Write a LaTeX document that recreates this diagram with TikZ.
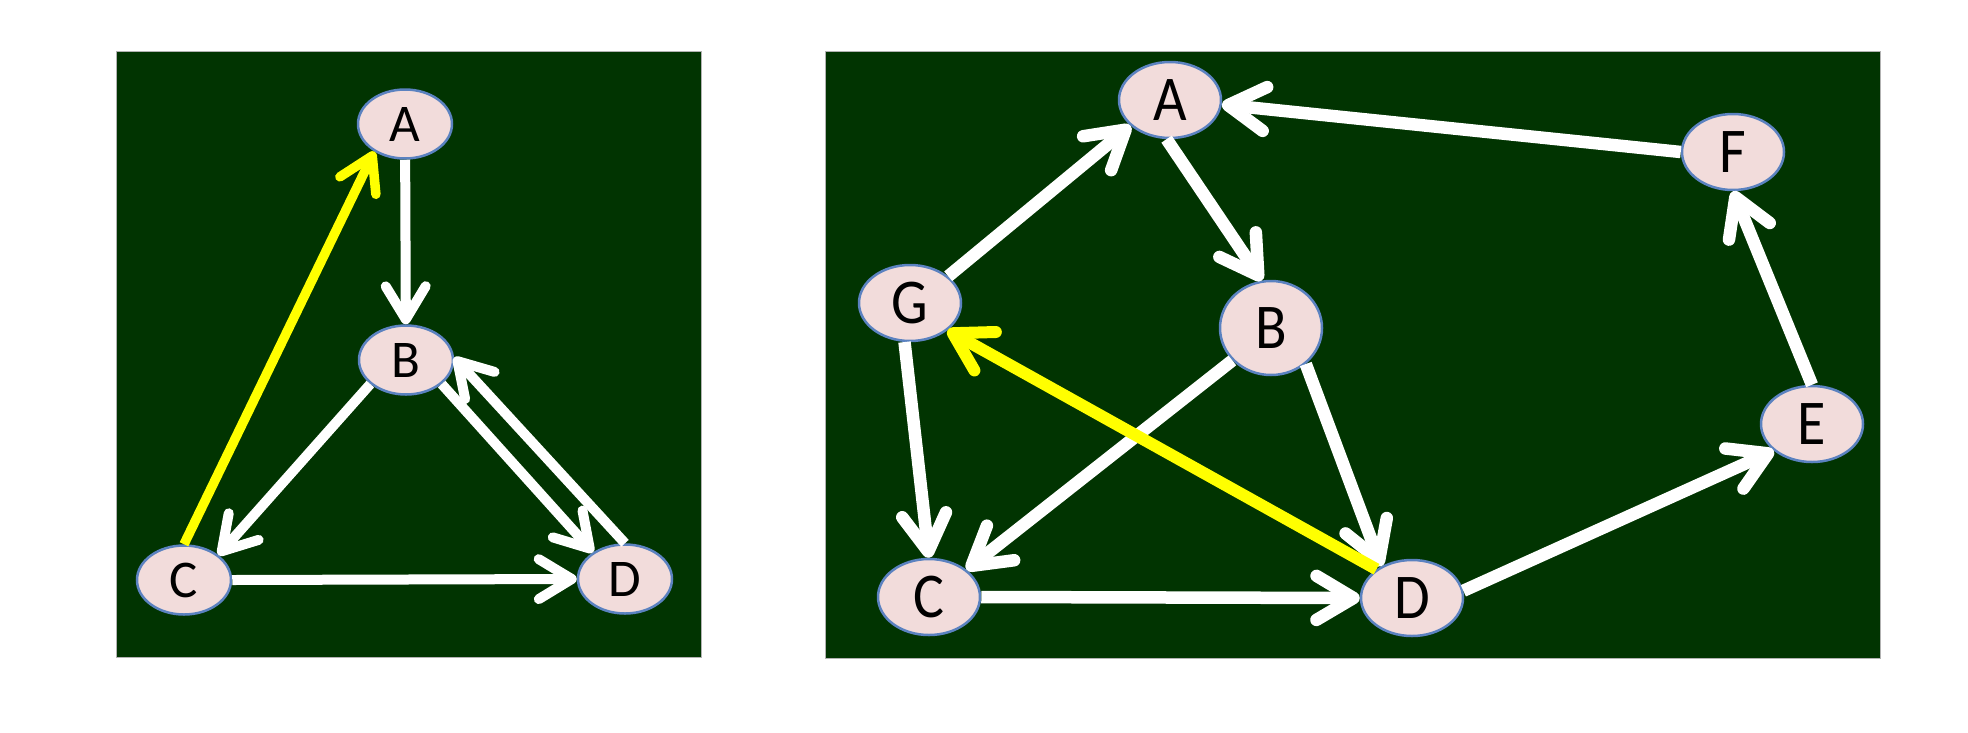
\documentclass[tikz,border=0pt]{standalone}
\usepackage{fontspec}
\setmainfont{Carlito}
\usetikzlibrary{arrows.meta,shapes.geometric}
\definecolor{panelgreen}{HTML}{013401}
\definecolor{nodefill}{HTML}{F2DCDB}
\definecolor{nodeline}{HTML}{5B82C0}
\definecolor{hiyellow}{HTML}{FFFF00}
\tikzset{
  panel/.style={fill=panelgreen, draw=gray!60, line width=1pt},
  lnode/.style={ellipse, fill=nodefill, draw=nodeline, line width=2.5pt, inner sep=0pt,
    minimum width=94pt, minimum height=69pt, font=\fontsize{53}{60}\selectfont, text=black},
  rnode/.style={ellipse, fill=nodefill, draw=nodeline, line width=2.5pt, inner sep=0pt,
    minimum width=102pt, minimum height=76pt, font=\fontsize{58}{66}\selectfont, text=black},
  ledge/.style={draw=white, line width=10pt, -{Straight Barb[length=33pt,width=40pt,round]}},
  redge/.style={draw=white, line width=12.5pt, -{Straight Barb[length=37pt,width=44pt,round]}},
  lyel/.style={ledge, draw=hiyellow, line width=9.5pt},
  ryel/.style={redge, draw=hiyellow, line width=12pt},
}
\newcommand{\tall}[1]{\scalebox{1}[1.1]{#1}}
\begin{document}
\begin{tikzpicture}[x=1pt, y=-1pt]
\useasboundingbox (0,0) rectangle (1968,732);
\fill[white] (0,0) rectangle (1968,732);
% panels
\path[panel] (116,51) rectangle (701,657);
\path[panel] (825,51) rectangle (1880,658);
% left graph
\node[lnode] (LA) at (405,124) {A};
\node[lnode] (LB) at (406,360) {B};
\node[lnode] (LC) at (184,580) {C};
\node[lnode] (LD) at (625,579) {D};
\draw[ledge] (LA) -- (LB);
\draw[ledge] (LB.214) -- (LC.36);
\draw[ledge] (LB.-34) -- (LD.140);
\draw[ledge] (LD.90) -- (LB.3);
\draw[ledge] (LC.0) -- (LD.180);
\draw[lyel] (LC.90) -- (LA.222);
% right graph
\node[rnode] (RA) at (1170,100) {\tall{A}};
\node[rnode] (RF) at (1733,152) {\tall{F}};
\node[rnode] (RG) at (910,303) {\tall{G}};
\node[rnode, minimum height=94pt] (RB) at (1271,328) {\tall{B}};
\node[rnode] (RE) at (1812,424) {\tall{E}};
\node[rnode] (RC) at (929,597) {\tall{C}};
\node[rnode] (RD) at (1412,598) {\tall{D}};
\draw[redge] (RG.35) -- (RA.213);
\draw[redge] (RA.265) -- (RB.101);
\draw[redge] (RF.180) -- (RA.-5);
\draw[redge] (RE.90) -- (RF.-90);
\draw[redge] (RD.8) -- (RE.215);
\draw[redge] (RC.0) -- (RD.180);
\draw[redge] (RG.262) -- (RC.90);
\draw[redge] (RB.220) -- (RC.36);
\draw[redge] (RB.-46) -- (RD.134);
\draw[ryel] (RD.141) -- (RG.-36);
\end{tikzpicture}
\end{document}
